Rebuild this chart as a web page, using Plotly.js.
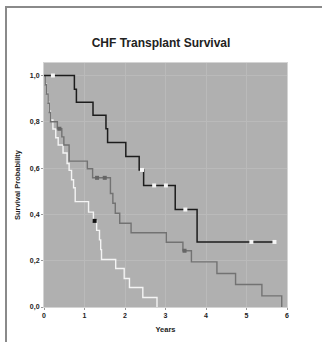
<!DOCTYPE html>
<html>
<head>
<meta charset="utf-8">
<script src="https://cdn.plot.ly/plotly-3.0.1.min.js"></script>
<style>
  html, body { margin: 0; padding: 0; background: #ffffff; }
  #wrap { position: relative; width: 322px; height: 342px; overflow: hidden; }
  #chart { position: absolute; left: 0; top: 0; width: 322px; height: 342px; }
  #frameTop { position: absolute; left: 5px; top: 6px; width: 317px; height: 2px; background: #8a8a8a; }
  #frameLeft { position: absolute; left: 5px; top: 6px; width: 2px; height: 336px; background: #8a8a8a; }
</style>
</head>
<body>
<div id="wrap">
  <div id="chart"></div>
  <div id="frameTop"></div>
  <div id="frameLeft"></div>
</div>
<script>
// Black curve (highest survival)
const blackTimes = [0, 0.75, 0.80, 1.21, 1.53, 1.57, 2.02, 2.35, 2.46, 3.24, 3.78, 5.69];
const blackSurv  = [1.0, 0.941, 0.884, 0.828, 0.770, 0.711, 0.650, 0.592, 0.525, 0.421, 0.281, 0.281];
const blackCensTimes = [0.22, 2.42, 2.72, 3.01, 3.49, 5.12, 5.69];
const blackCensSurv  = [1.0, 0.592, 0.525, 0.525, 0.421, 0.281, 0.281];

// Gray curve (middle)
const grayTimes = [0, 0.03, 0.06, 0.10, 0.13, 0.16, 0.33, 0.44, 0.49, 0.62, 1.07, 1.20, 1.64, 1.70, 1.76, 1.87, 2.15, 3.02, 3.43, 3.64, 4.27, 4.73, 5.38, 5.87];
const graySurv  = [1.0, 0.96, 0.92, 0.88, 0.84, 0.80, 0.77, 0.735, 0.70, 0.630, 0.597, 0.558, 0.490, 0.448, 0.405, 0.362, 0.321, 0.280, 0.243, 0.195, 0.145, 0.097, 0.048, 0.0];
const grayCensTimes = [0.38, 1.31, 1.50, 3.47];
const grayCensSurv  = [0.77, 0.558, 0.558, 0.243];

// White curve (lowest survival)
const whiteTimes = [0, 0.03, 0.06, 0.09, 0.12, 0.16, 0.22, 0.29, 0.35, 0.47, 0.57, 0.62, 0.68, 0.73, 0.77, 1.10, 1.22, 1.30, 1.37, 1.40, 1.42, 1.77, 1.98, 2.11, 2.44, 2.79];
const whiteSurv  = [1.0, 0.962, 0.923, 0.885, 0.846, 0.808, 0.769, 0.731, 0.700, 0.665, 0.620, 0.590, 0.550, 0.515, 0.455, 0.410, 0.372, 0.331, 0.290, 0.248, 0.205, 0.166, 0.123, 0.084, 0.041, 0.0];
const whiteCensTimes = [1.25];
const whiteCensSurv  = [0.372];

const xTickVals = [0, 1, 2, 3, 4, 5, 6];
const yTickVals = [0, 0.2, 0.4, 0.6, 0.8, 1.0];

const font = "'Liberation Sans', Arial, sans-serif";

const traces = [
  { x: whiteTimes, y: whiteSurv, type: 'scatter', mode: 'lines', line: { shape: 'hv', color: '#f4f4f4', width: 1.4 }, hoverinfo: 'skip' },
  { x: grayTimes, y: graySurv, type: 'scatter', mode: 'lines', line: { shape: 'hv', color: '#727272', width: 1.4 }, hoverinfo: 'skip' },
  { x: blackTimes, y: blackSurv, type: 'scatter', mode: 'lines', line: { shape: 'hv', color: '#1c1c1c', width: 1.5 }, hoverinfo: 'skip' },
  { x: whiteCensTimes, y: whiteCensSurv, type: 'scatter', mode: 'markers', marker: { symbol: 'square', size: 4, color: '#111111' }, hoverinfo: 'skip' },
  { x: grayCensTimes, y: grayCensSurv, type: 'scatter', mode: 'markers', marker: { symbol: 'square', size: 4, color: '#666666' }, hoverinfo: 'skip' },
  { x: blackCensTimes, y: blackCensSurv, type: 'scatter', mode: 'markers', marker: { symbol: 'square', size: 4, color: '#f4f4f4' }, hoverinfo: 'skip' }
];

const layout = {
  width: 322, height: 342,
  margin: { l: 44, r: 35, t: 63, b: 35 },
  paper_bgcolor: 'rgba(0,0,0,0)',
  plot_bgcolor: '#b0b0b0',
  separators: ',.',
  showlegend: false,
  font: { family: font, color: '#222222' },
  title: {
    text: 'CHF Transplant Survival',
    font: { family: font, size: 12, weight: 'bold', color: '#222222' },
    x: 0.5, xanchor: 'center', y: 1 - 43 / 342, yanchor: 'middle'
  },
  xaxis: {
    range: [0, 6], tickvals: xTickVals, ticktext: xTickVals.map(String),
    showgrid: true, gridcolor: '#bababa', gridwidth: 1, zeroline: false,
    showline: true, linecolor: '#d4d4d4', linewidth: 1, mirror: true,
    ticks: 'outside', ticklen: 2, tickcolor: '#999999',
    tickfont: { family: font, size: 7, weight: 'bold', color: '#222222' },
    title: { text: 'Years', font: { family: font, size: 7.5, weight: 'bold', color: '#222222' }, standoff: 8 },
    automargin: false, fixedrange: true
  },
  yaxis: {
    range: [0, 1.054], tickvals: yTickVals, tickformat: '.1f',
    showgrid: true, gridcolor: '#bababa', gridwidth: 1, zeroline: false,
    showline: true, linecolor: '#d4d4d4', linewidth: 1, mirror: true,
    ticks: 'outside', ticklen: 2, tickcolor: '#999999',
    tickfont: { family: font, size: 7, weight: 'bold', color: '#222222' },
    title: { text: 'Survival Probability', font: { family: font, size: 7.5, weight: 'bold', color: '#222222' }, standoff: 8 },
    automargin: false, fixedrange: true
  }
};

Plotly.newPlot('chart', traces, layout, { displayModeBar: false, staticPlot: true });
</script>
</body>
</html>
